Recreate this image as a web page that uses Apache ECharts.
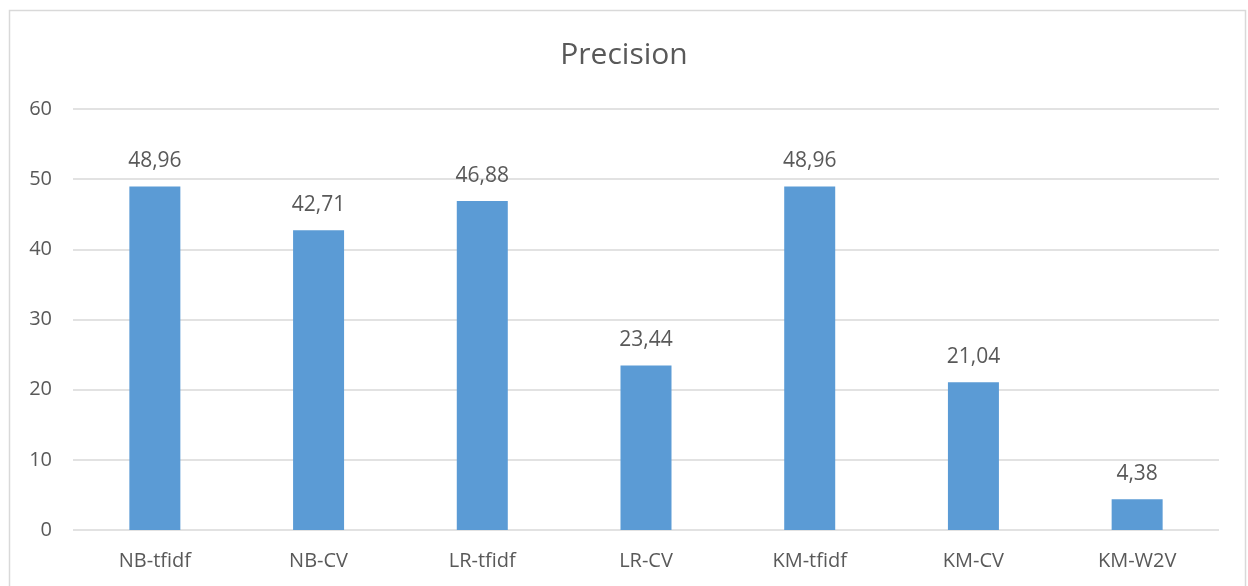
<!DOCTYPE html>
<html>
<head>
<meta charset="utf-8">
<script src="https://cdn.jsdelivr.net/npm/echarts@6/dist/echarts.min.js"></script>
<style>
  html, body { margin: 0; padding: 0; background: #fff; }
  #chart { width: 1248px; height: 586px; }
</style>
</head>
<body>
<div id="chart"></div>
<script>
// chart data
const categories = ['NB-tfidf', 'NB-CV', 'LR-tfidf', 'LR-CV', 'KM-tfidf', 'KM-CV', 'KM-W2V']
const precision = [48.96, 42.71, 46.88, 23.44, 48.96, 21.04, 4.38]
const yTicks = [0, 10, 20, 30, 40, 50, 60]

const textColor = '#595959'
const font = '"Open Sans", "Noto Sans", sans-serif'

const chart = echarts.init(document.getElementById('chart'))

chart.setOption({
  animation: false,
  textStyle: { fontFamily: font },
  title: {
    text: 'Precision',
    left: 'center',
    top: 35,
    textStyle: { color: textColor, fontSize: 30, fontWeight: 'normal', fontFamily: font }
  },
  graphic: [
    {
      type: 'rect',
      shape: { x: 9.5, y: 10.5, width: 1236, height: 600 },
      style: { fill: 'none', stroke: '#d9d9d9', lineWidth: 1.5 },
      silent: true
    }
  ],
  grid: {
    left: 73,
    right: 29,
    top: 109,
    bottom: 56,
    containLabel: false
  },
  xAxis: {
    type: 'category',
    data: categories,
    axisLine: { show: false },
    axisTick: { show: false },
    axisLabel: { color: textColor, fontSize: 20, margin: 21, fontFamily: font }
  },
  yAxis: {
    type: 'value',
    min: yTicks[0],
    max: yTicks[yTicks.length - 1],
    interval: 10,
    axisLine: { show: false },
    axisTick: { show: false },
    axisLabel: { color: textColor, fontSize: 20, margin: 21, fontFamily: font },
    splitLine: { lineStyle: { color: '#d9d9d9', width: 1.5 } }
  },
  series: [
    {
      name: 'Precision',
      type: 'bar',
      data: precision,
      barWidth: 51,
      itemStyle: { color: '#5b9bd5' },
      label: {
        show: true,
        position: 'top',
        distance: 15,
        color: textColor,
        fontSize: 21,
        fontFamily: font,
        formatter: p => p.value.toFixed(2).replace('.', ',')
      }
    }
  ]
})
</script>
</body>
</html>
